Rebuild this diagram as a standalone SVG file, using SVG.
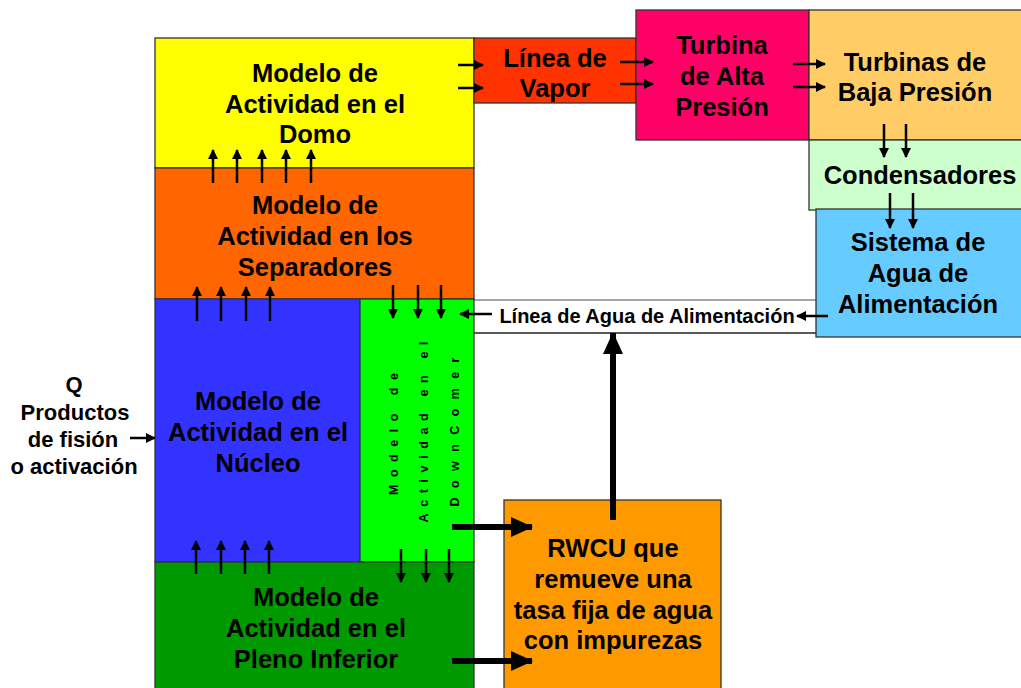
<svg xmlns="http://www.w3.org/2000/svg" width="1021" height="688" viewBox="0 0 1021 688">
<style>
.box{stroke:#333333;stroke-width:1.3}
.t{font-family:"Liberation Sans",Arial,sans-serif;font-weight:bold;font-size:25.5px;fill:#000;text-anchor:middle}
.lbl{font-size:20px}
.side{font-size:22px}
.dc{font-size:12.5px}
.a{stroke:#000;stroke-width:2.5;fill:none;marker-end:url(#ah)}
.A{stroke:#000;stroke-width:6;fill:none;marker-end:url(#AH)}
</style>
<defs>
<marker id="ah" markerUnits="userSpaceOnUse" markerWidth="10" markerHeight="10" refX="9" refY="5" orient="auto">
<path d="M0,0 L10,5 L0,10 z" fill="#000"/>
</marker>
<marker id="AH" markerUnits="userSpaceOnUse" markerWidth="22" markerHeight="20" refX="21" refY="10" orient="auto">
<path d="M0,0 L22,10 L0,20 z" fill="#000"/>
</marker>
</defs>
<rect width="1021" height="688" fill="#ffffff"/>

<g id="feedline">
<rect x="474" y="300" width="342" height="33" fill="#ffffff" stroke="none"/>
<line x1="474" y1="300" x2="816" y2="300" stroke="#888" stroke-width="1.3"/>
<line x1="474" y1="333" x2="816" y2="333" stroke="#222" stroke-width="1.3"/>
<text class="t lbl" x="647" y="323">Línea de Agua de Alimentación</text>
</g>

<g id="domo">
<rect class="box" x="155" y="38" width="319" height="130" fill="#FFFF00"/>
<text class="t" x="315" y="82">Modelo de</text>
<text class="t" x="315" y="113">Actividad en el</text>
<text class="t" x="315" y="143">Domo</text>
</g>

<g id="separadores">
<rect class="box" x="155" y="168" width="319" height="131" fill="#FF6600"/>
<text class="t" x="315" y="214">Modelo de</text>
<text class="t" x="315" y="245">Actividad en los</text>
<text class="t" x="315" y="276">Separadores</text>
</g>

<g id="nucleo">
<rect class="box" x="155" y="299" width="205" height="263" fill="#3333FF"/>
<text class="t" x="258" y="410">Modelo de</text>
<text class="t" x="258" y="441">Actividad en el</text>
<text class="t" x="258" y="472">Núcleo</text>
</g>

<g id="downcomer">
<rect class="box" x="360" y="299" width="114" height="263" fill="#00FF00"/>
<text class="t dc" transform="translate(397.5,434) rotate(-90)" textLength="122" lengthAdjust="spacing">Modelo de</text>
<text class="t dc" transform="translate(427.5,432) rotate(-90)" textLength="181" lengthAdjust="spacing">Actividad en el</text>
<text class="t dc" transform="translate(458.5,432) rotate(-90)" textLength="149" lengthAdjust="spacing">DownComer</text>
</g>

<g id="pleno">
<rect class="box" x="155" y="562" width="319" height="130" fill="#009900"/>
<text class="t" x="316" y="606">Modelo de</text>
<text class="t" x="316" y="637">Actividad en el</text>
<text class="t" x="316" y="668">Pleno Inferior</text>
</g>

<g id="vapor">
<rect class="box" x="474" y="38" width="162" height="65" fill="#FF3300"/>
<text class="t" x="555" y="67">Línea de</text>
<text class="t" x="555" y="97">Vapor</text>
</g>

<g id="alta">
<rect class="box" x="636" y="10" width="173" height="130" fill="#FF0066"/>
<text class="t" x="722" y="54">Turbina</text>
<text class="t" x="722" y="85">de Alta</text>
<text class="t" x="722" y="116">Presión</text>
</g>

<g id="baja">
<rect class="box" x="809" y="10" width="213" height="130" fill="#FFCC66"/>
<text class="t" x="915" y="71">Turbinas de</text>
<text class="t" x="915" y="101">Baja Presión</text>
</g>

<g id="condensadores">
<rect class="box" x="809" y="140" width="213" height="70" fill="#CCFFCC"/>
<text class="t" x="920" y="184">Condensadores</text>
</g>

<g id="sistema">
<rect class="box" x="816" y="209" width="206" height="128" fill="#66CCFF"/>
<text class="t" x="918" y="251">Sistema de</text>
<text class="t" x="918" y="282">Agua de</text>
<text class="t" x="918" y="313">Alimentación</text>
</g>

<g id="rwcu">
<rect class="box" x="504" y="500" width="217" height="190" fill="#FF9900"/>
<text class="t" x="613" y="557">RWCU que</text>
<text class="t" x="613" y="588">remueve una</text>
<text class="t" x="613" y="619">tasa fija de agua</text>
<text class="t" x="613" y="649">con impurezas</text>
</g>

<g id="fuente">
<text class="t side" x="74" y="392">Q</text>
<text class="t side" x="75" y="420">Productos</text>
<text class="t side" x="73" y="447">de fisión</text>
<text class="t side" x="74" y="474">o activación</text>
</g>

<g id="connectors">
<line class="a" x1="130" y1="438" x2="155" y2="438"/>
<line class="a" x1="213" y1="183" x2="213" y2="150"/>
<line class="a" x1="237" y1="183" x2="237" y2="150"/>
<line class="a" x1="262" y1="183" x2="262" y2="150"/>
<line class="a" x1="286" y1="183" x2="286" y2="150"/>
<line class="a" x1="311" y1="183" x2="311" y2="150"/>
<line class="a" x1="197" y1="321" x2="197" y2="287"/>
<line class="a" x1="221" y1="321" x2="221" y2="287"/>
<line class="a" x1="246" y1="321" x2="246" y2="287"/>
<line class="a" x1="270" y1="321" x2="270" y2="287"/>
<line class="a" x1="196" y1="574" x2="196" y2="541"/>
<line class="a" x1="221" y1="574" x2="221" y2="541"/>
<line class="a" x1="245" y1="574" x2="245" y2="541"/>
<line class="a" x1="269" y1="574" x2="269" y2="541"/>
<line class="a" x1="393" y1="285" x2="393" y2="318"/>
<line class="a" x1="418" y1="285" x2="418" y2="318"/>
<line class="a" x1="441" y1="285" x2="441" y2="318"/>
<line class="a" x1="401" y1="549" x2="401" y2="582"/>
<line class="a" x1="426" y1="549" x2="426" y2="582"/>
<line class="a" x1="449" y1="549" x2="449" y2="582"/>
<line class="a" x1="458" y1="65" x2="483" y2="65"/>
<line class="a" x1="458" y1="88" x2="483" y2="88"/>
<line class="a" x1="620" y1="62" x2="653" y2="62"/>
<line class="a" x1="620" y1="84" x2="653" y2="84"/>
<line class="a" x1="793" y1="64" x2="825" y2="64"/>
<line class="a" x1="793" y1="87" x2="825" y2="87"/>
<line class="a" x1="884" y1="124" x2="884" y2="157"/>
<line class="a" x1="906" y1="124" x2="906" y2="157"/>
<line class="a" x1="890" y1="193" x2="890" y2="228"/>
<line class="a" x1="913" y1="193" x2="913" y2="228"/>
<line class="a" x1="828" y1="316" x2="797" y2="316"/>
<line class="a" x1="492" y1="314" x2="460" y2="314"/>
<line class="A" x1="452" y1="527" x2="532" y2="527"/>
<line class="A" x1="452" y1="661" x2="532" y2="661"/>
<line class="A" x1="613" y1="520" x2="613" y2="333"/>
</g>
</svg>
